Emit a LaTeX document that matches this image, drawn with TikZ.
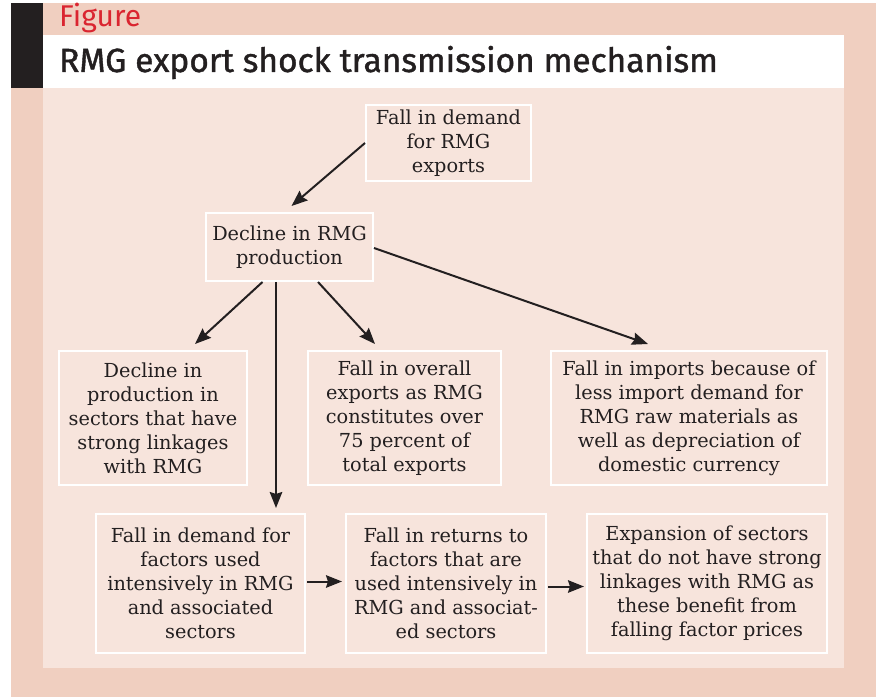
\documentclass[tikz,border=0pt]{standalone}
\usepackage{fontspec}
\setmainfont{DejaVu Serif}
\newfontfamily\titlefont{Fira Sans}
\newfontfamily\titlebold{Fira Sans}[FakeBold=1.2]
\usetikzlibrary{arrows.meta,positioning,calc}
\definecolor{figsalmon}{RGB}{240,207,192}
\definecolor{figpanel}{RGB}{247,228,220}
\definecolor{figblack}{RGB}{35,31,32}
\definecolor{figred}{RGB}{218,37,48}
\tikzset{
  box/.style={draw=white,line width=2pt,fill=figpanel,align=center,inner sep=0pt,
    text=figblack,font=\fontsize{19.3}{24}\selectfont},
  arr/.style={line width=2pt,draw=figblack,-{Stealth[length=16pt,width=12.5pt,inset=2pt]}}
}

\begin{document}
\begin{tikzpicture}[x=1pt,y=1pt]
  \useasboundingbox (0,0) rectangle (877,697);
  % fondos
  \fill[figsalmon] (11,0) rectangle (876,694);
  \fill[figblack] (11,609) rectangle (43,694);
  \fill[white] (43,609) rectangle (844,662);
  \fill[figpanel] (43,29) rectangle (844,609);
  % titulo
  \node[anchor=base west,inner sep=0pt,text=figred,font=\titlefont\fontsize{30}{30}\selectfont] (figlabel) at (59,670) {Figure};
  \node[anchor=base west,inner sep=0pt,text=figblack,font=\titlebold\fontsize{33.5}{33.5}\selectfont] (title) at (59,625) {RMG export shock transmission mechanism};
  % cajas
  \node[box,minimum width=165pt,minimum height=76pt] (demand) at (448.5,554) {Fall in demand\\for RMG\\exports};
  \node[box,minimum width=167pt,minimum height=68pt] (decline) at (289.5,450) {Decline in RMG\\production};
  \node[box,minimum width=188pt,minimum height=134pt] (linked) at (153,279) {Decline in\\production in\\sectors that have\\strong linkages\\with RMG};
  \node[box,minimum width=193pt,minimum height=134pt] (exports) at (404.5,279) {Fall in overall\\exports as RMG\\constitutes over\\75 percent of\\total exports};
  \node[box,minimum width=276pt,minimum height=134pt] (imports) at (689,279) {Fall in imports because of\\less import demand for\\RMG raw materials as\\well as depreciation of\\domestic currency};
  \node[box,minimum width=209pt,minimum height=139pt] (factors) at (200.5,113.5) {Fall in demand for\\factors used\\intensively in RMG\\and associated\\sectors};
  \node[box,minimum width=200pt,minimum height=139pt] (returns) at (446,113.5) {Fall in returns to\\factors that are\\used intensively in\\RMG and associat-\\ed sectors};
  \node[box,minimum width=240pt,minimum height=139pt] (expansion) at (707,113.5) {Expansion of sectors\\that do not have strong\\linkages with RMG as\\these benefit from\\falling factor prices};
  % flechas
  \draw[arr] (demand.west) -- ($(decline.north)+(2,6)$);
  \draw[arr] ($(decline.south)+(-27,0)$) -- ($(linked.north)+(42,6)$);
  \draw[arr] ($(decline.south)+(-13.5,0)$) -- ($(factors.north)+(75.5,5)$);
  \draw[arr] ($(decline.south)+(28.5,0)$) -- ($(exports.north)+(-29.5,6)$);
  \draw[arr] ($(decline.east)+(0,-1)$) -- ($(imports.north)+(-41,6)$);
  \draw[arr] ($(factors.east)+(1,2)$) -- ($(returns.west)+(-3,2)$);
  \draw[arr] ($(returns.east)+(1,-3)$) -- ($(expansion.west)+(-2,-3)$);
\end{tikzpicture}
\end{document}
